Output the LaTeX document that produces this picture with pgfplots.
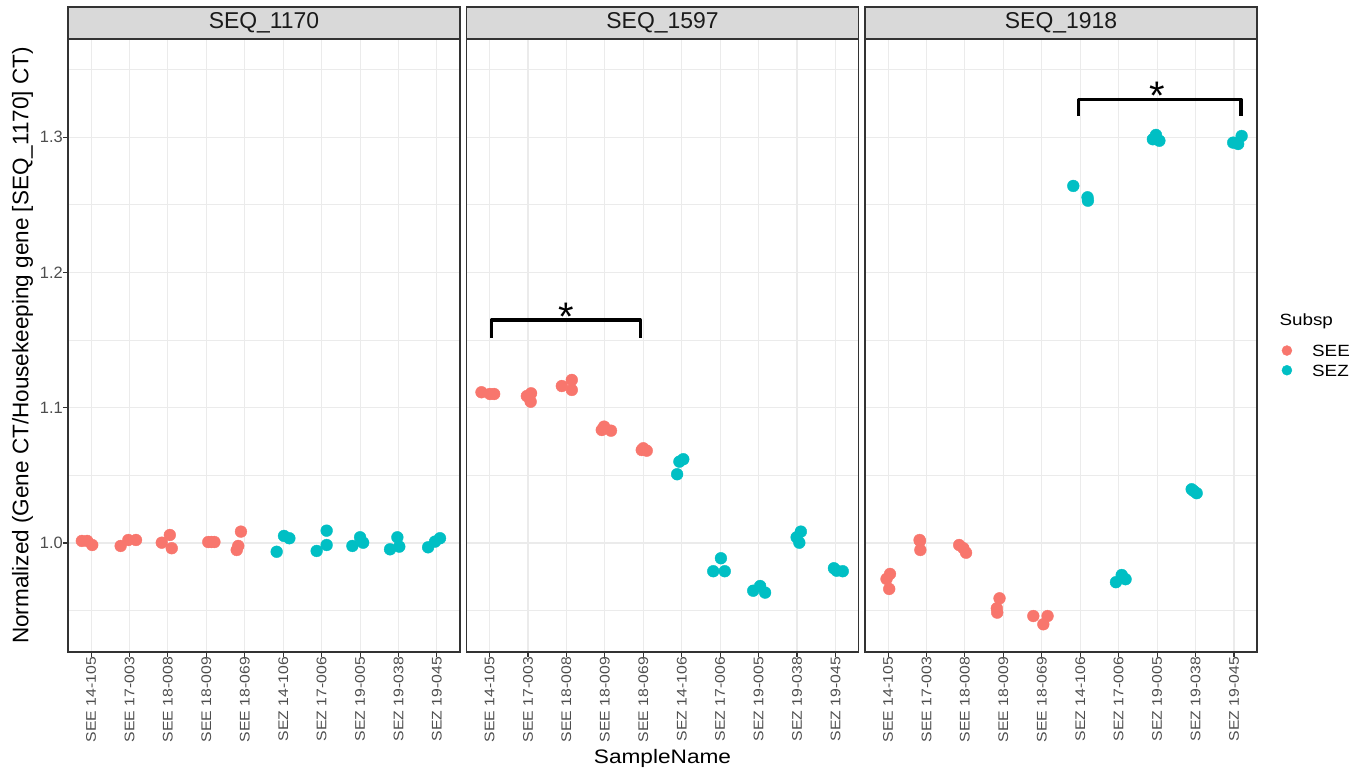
\documentclass[border=0pt]{standalone}
\usepackage{pgfplots}
\pgfplotsset{compat=1.18}
\usepackage{fontspec}
\setmainfont{Liberation Sans}
\newfontfamily\xtickfont{Liberation Sans}[FakeStretch=1.13]
\newfontfamily\widefont{Liberation Sans}[FakeStretch=1.16]
\definecolor{SEE}{HTML}{F8766D}
\definecolor{SEZ}{HTML}{00BFC4}
\definecolor{gridc}{HTML}{EBEBEB}
\definecolor{border}{HTML}{333333}
\definecolor{stripfill}{HTML}{D9D9D9}
\definecolor{striptext}{HTML}{1A1A1A}
\definecolor{ticktext}{HTML}{4D4D4D}
\pgfplotsset{
  panel/.style={
    scale only axis, width=392bp, height=613bp,
    xmin=0.4, xmax=10.6, ymin=0.9194, ymax=1.3725,
    xtick={1,...,10},
    xticklabels={SEE 14-105, SEE 17-003, SEE 18-008, SEE 18-009, SEE 18-069, SEZ 14-106, SEZ 17-006, SEZ 19-005, SEZ 19-038, SEZ 19-045},
    ytick={1.0,1.1,1.2,1.3},
    minor ytick={0.95,1.05,1.15,1.25,1.35},
    xmajorgrids, ymajorgrids, yminorgrids,
    major grid style={color=gridc, line width=1.1bp},
    minor grid style={color=gridc, line width=0.55bp},
    axis line style={color=border, line width=1.1bp},
    tick align=outside, xtick pos=left, ytick pos=left,
    major tick length=5bp, minor tick length=0pt,
    tick style={color=border, line width=1.1bp},
    xticklabel style={rotate=90, anchor=east, inner sep=0pt, font=\xtickfont\fontsize{14}{14}\selectfont, text=ticktext},
    yticklabel style={anchor=east, inner sep=0pt, font=\fontsize{16.5}{16.5}\selectfont, text=ticktext},
    title style={at={(0.5,1)}, anchor=south, yshift=-6pt, fill=stripfill, draw=border, line width=1.1bp,
      minimum width=392bp, minimum height=32bp, inner sep=0pt, outer sep=0pt,
      font=\fontsize{23}{23}\selectfont, text=striptext},
    see/.style={only marks, mark=*, color=SEE, draw=SEE, fill=SEE, mark size=5.9bp},
    sez/.style={only marks, mark=*, color=SEZ, draw=SEZ, fill=SEZ, mark size=5.9bp},
    bracket/.style={black, line width=3.3bp, line join=round, mark=none},
  }
}
\begin{document}
\begin{tikzpicture}
\useasboundingbox (0,0) rectangle (1363bp,-769bp);
% Panel 1
\begin{axis}[panel, at={(68bp,-652bp)}, anchor=south west, title={SEQ\_1170},
  yticklabels={1.0,1.1,1.2,1.3}]
\addplot[see] coordinates {(0.76,1.0015)(0.90,1.0015)(1.03,0.9985)
(1.77,0.9978)(1.97,1.0022)(2.17,1.0022)
(2.84,1.0002)(3.05,1.0059)(3.10,0.9961)
(4.05,1.0007)(4.13,1.0007)(4.21,1.0007)
(4.90,1.0084)(4.83,0.9978)(4.79,0.9948)};
\addplot[sez] coordinates {(5.83,0.9935)(6.02,1.0052)(6.16,1.0035)
(6.87,0.9941)(7.13,0.9985)(7.13,1.0091)
(7.80,0.9978)(8.00,1.0042)(8.08,1.0002)
(8.78,0.9953)(8.97,1.0042)(9.02,0.9973)
(9.77,0.9968)(9.95,1.0010)(10.08,1.0035)};
\end{axis}
% Panel 2
\begin{axis}[panel, at={(466.5bp,-652bp)}, anchor=south west, title={SEQ\_1597},
  yticklabels={}, ytick style={draw=none}]
\addplot[see] coordinates {(0.79,1.1114)(1.01,1.1101)(1.12,1.1101)
(1.97,1.1086)(2.08,1.1106)(2.07,1.1044)
(2.88,1.1160)(3.14,1.1205)(3.14,1.1131)
(3.92,1.0835)(3.98,1.0860)(4.16,1.0830)
(4.96,1.0687)(5.09,1.0682)(5.00,1.0700)};
\addplot[sez] coordinates {(5.88,1.0508)(5.94,1.0601)(6.04,1.0619)
(6.82,0.9791)(7.02,0.9887)(7.12,0.9791)
(7.86,0.9647)(8.04,0.9682)(8.17,0.9633)
(8.99,1.0042)(9.10,1.0084)(9.06,1.0002)
(9.96,0.9813)(10.03,0.9795)(10.19,0.9791)};
\addplot[bracket] coordinates {(1.05,1.1515)(1.05,1.1648)(4.92,1.1648)(4.92,1.1515)};
\node[anchor=north, inner sep=0pt, font=\fontsize{40}{40}\selectfont] at (axis cs:2.985,1.1772) {*};
\end{axis}
% Panel 3
\begin{axis}[panel, at={(865bp,-652bp)}, anchor=south west, title={SEQ\_1918},
  yticklabels={}, ytick style={draw=none},
  legend style={at={(1.0605,0.5013)}, anchor=north west, draw=none, fill=none,
    inner sep=0pt, outer sep=0pt, row sep=8bp, column sep=0bp,
    font=\widefont\fontsize{16.3}{16.3}\selectfont,
    nodes={inner sep=0pt, text height=11.7bp, text depth=0pt}},
  legend cell align=left,
  legend image code/.code={\draw[#1, mark size=5bp] plot coordinates {(0bp,0bp)}; \path (-6bp,0) (25bp,0);},
  ]
\addplot[see] coordinates {(0.96,0.9734)(1.05,0.9771)(1.03,0.9660)
(1.82,1.0022)(1.84,0.9948)(1.83,1.0015)
(2.85,0.9985)(2.96,0.9961)(3.03,0.9928)
(3.90,0.9591)(3.83,0.9517)(3.84,0.9485)
(4.78,0.9460)(5.04,0.9399)(5.15,0.9460)};
\addlegendentry{SEE}
\addplot[sez] coordinates {(5.82,1.2639)(6.19,1.2555)(6.20,1.2530)
(6.93,0.9710)(7.08,0.9763)(7.18,0.9732)
(7.89,1.2984)(7.97,1.3016)(8.06,1.2973)
(8.90,1.0397)(9.03,1.0368)(8.95,1.0385)
(9.98,1.2959)(10.20,1.3008)(10.11,1.2949)};
\addlegendentry{SEZ}
\addplot[bracket, forget plot] coordinates {(5.95,1.3156)(5.95,1.3279)(10.18,1.3279)(10.18,1.3156)};
\node[anchor=north, inner sep=0pt, font=\fontsize{40}{40}\selectfont] at (axis cs:8.0,1.3410) {*};
\end{axis}
\node[rotate=90, anchor=base, inner sep=0pt, font=\fontsize{22.6}{22.6}\selectfont] at (28.3bp,-345.5bp)
  {Normalized (Gene CT/Housekeeping gene [SEQ\_1170] CT)};
\node[anchor=base, inner sep=0pt, font=\widefont\fontsize{19.6}{19.6}\selectfont] at (662.5bp,-763.3bp) {SampleName};
\node[anchor=base west, inner sep=0pt, font=\widefont\fontsize{16.3}{16.3}\selectfont] at (1279.3bp,-325bp) {Subsp};
\end{tikzpicture}
\end{document}
